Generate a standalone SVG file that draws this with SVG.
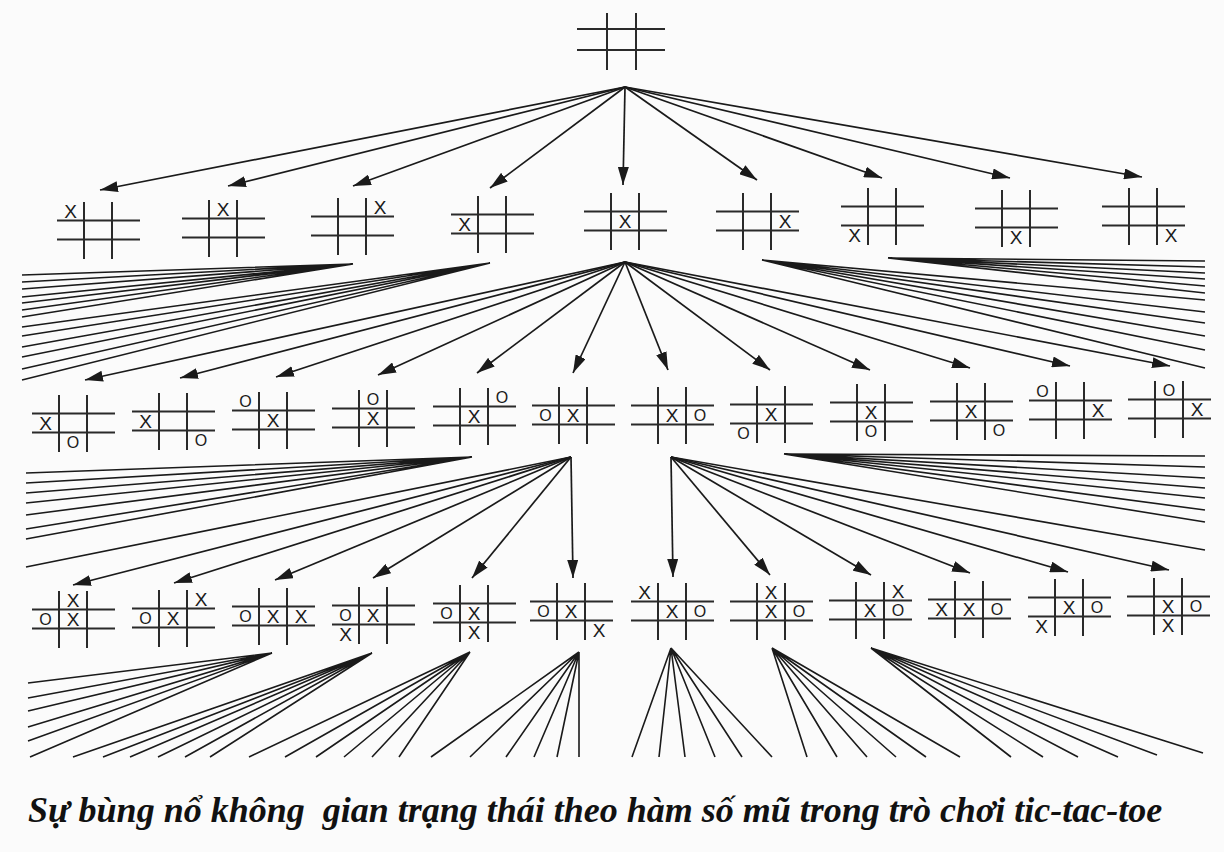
<svg xmlns="http://www.w3.org/2000/svg" xmlns:xlink="http://www.w3.org/1999/xlink" width="1224" height="852" viewBox="0 0 1224 852">
<style>
.grid{fill:none;stroke:#2a2a2a;stroke-width:2}
.x{font-family:"Liberation Sans",Arial,sans-serif;font-size:19px;fill:#1a1a1a;text-anchor:middle;dominant-baseline:central}
.o{font-family:"Liberation Sans",Arial,sans-serif;font-size:16px;fill:#1a1a1a;text-anchor:middle;dominant-baseline:central}
.arr{fill:none;stroke:#1a1a1a;stroke-width:1.7;marker-end:url(#ah)}
.ln{fill:none;stroke:#1a1a1a;stroke-width:1.6}
.cap{font-family:"Liberation Serif","Times New Roman",serif;font-weight:bold;font-style:italic;font-size:36px;fill:#111}
</style>
<defs>
<marker id="ah" markerUnits="userSpaceOnUse" markerWidth="19" markerHeight="11" refX="18" refY="5.5" orient="auto">
<path d="M0,0 L18,5.5 L0,11 z" fill="#1a1a1a"/>
</marker>
<path id="grid" class="grid" d="M27,0V57M55,0V57M0,18.5H83M0,37.5H83"/>
</defs>
<rect width="1224" height="852" fill="#fbfbfb"/>

<g id="connectors">
<path class="arr" d="M625,87L100,190"/>
<path class="arr" d="M625,87L228,186"/>
<path class="arr" d="M625,87L353,186"/>
<path class="arr" d="M625,87L490,188"/>
<path class="arr" d="M625,87L623,185"/>
<path class="arr" d="M625,87L757,180"/>
<path class="arr" d="M625,87L882,178"/>
<path class="arr" d="M625,87L1010,178"/>
<path class="arr" d="M625,87L1142,177"/>
<path class="arr" d="M625,262L85,380"/>
<path class="arr" d="M625,262L180,378"/>
<path class="arr" d="M625,262L276,377"/>
<path class="arr" d="M625,262L378,375"/>
<path class="arr" d="M625,262L477,373"/>
<path class="arr" d="M625,262L573,373"/>
<path class="arr" d="M625,262L668,370"/>
<path class="arr" d="M625,262L770,370"/>
<path class="arr" d="M625,262L870,370"/>
<path class="arr" d="M625,262L970,368"/>
<path class="arr" d="M625,262L1070,366"/>
<path class="arr" d="M625,262L1170,366"/>
<path class="ln" d="M353,264L22,275M353,264L22,282M353,264L22,289M353,264L22,297M353,264L22,303M353,264L22,310M353,264L22,317"/>
<path class="ln" d="M490,263L22,327M490,263L22,336M490,263L22,347M490,263L22,357M490,263L22,369M490,263L22,380"/>
<path class="ln" d="M762,260L1205,300M762,260L1205,312M762,260L1205,323M762,260L1205,336M762,260L1205,350M762,260L1205,368"/>
<path class="ln" d="M888,258L1205,261M888,258L1205,267M888,258L1205,273M888,258L1205,279M888,258L1205,286M888,258L1205,293"/>
<path class="ln" d="M472,457L26,473M472,457L26,483M472,457L26,493M472,457L26,503M472,457L26,515M472,457L26,529M472,457L26,539"/>
<path class="ln" d="M571,457L26,567"/>
<path class="arr" d="M571,457L73,585"/>
<path class="arr" d="M571,457L174,583"/>
<path class="arr" d="M571,457L275,580"/>
<path class="arr" d="M571,457L373,578"/>
<path class="arr" d="M571,457L472,578"/>
<path class="arr" d="M571,457L573,578"/>
<path class="ln" d="M671,457L1205,550"/>
<path class="arr" d="M671,457L673,577"/>
<path class="arr" d="M671,457L770,575"/>
<path class="arr" d="M671,457L871,575"/>
<path class="arr" d="M671,457L970,573"/>
<path class="arr" d="M671,457L1068,572"/>
<path class="arr" d="M671,457L1169,570"/>
<path class="ln" d="M784,454L1205,456M784,454L1205,467M784,454L1205,478M784,454L1205,488M784,454L1205,498M784,454L1205,510M784,454L1205,522"/>
<path class="ln" d="M272,653L28,683M272,653L28,698M272,653L28,711M272,653L28,727M272,653L28,741M272,653L30,757"/>
<path class="ln" d="M372,653L73,757M372,653L103,757M372,653L130,757M372,653L158,757M372,653L185,757M372,653L210,757"/>
<path class="ln" d="M470,652L249,757M470,652L285,757M470,652L316,757M470,652L344,757M470,652L372,757M470,652L399,757"/>
<path class="ln" d="M579,652L431,757M579,652L470,757M579,652L506,757M579,652L534,757M579,652L557,757M579,652L579,757"/>
<path class="ln" d="M671,648L632,757M671,648L659,757M671,648L685,757M671,648L715,757M671,648L742,757M671,648L772,757"/>
<path class="ln" d="M772,648L807,757M772,648L837,757M772,648L867,757M772,648L896,757M772,648L926,757M772,648L960,757"/>
<path class="ln" d="M871,648L1011,757M871,648L1043,757M871,648L1078,757M871,648L1118,757M871,648L1157,755M871,648L1203,753"/>
</g>

<g id="root"><path class="grid" d="M607,13V70M636,13V70M577,29H665M577,50H665"/></g>

<g id="n1-1" transform="translate(57,202)"><use xlink:href="#grid"/><text class="x" x="13.5" y="9">X</text></g>
<g id="n1-2" transform="translate(182,200)"><use xlink:href="#grid"/><text class="x" x="41" y="9">X</text></g>
<g id="n1-3" transform="translate(311,198)"><use xlink:href="#grid"/><text class="x" x="69" y="9">X</text></g>
<g id="n1-4" transform="translate(451,196)"><use xlink:href="#grid"/><text class="x" x="13.5" y="28">X</text></g>
<g id="n1-5" transform="translate(584,193)"><use xlink:href="#grid"/><text class="x" x="41" y="28">X</text></g>
<g id="n1-6" transform="translate(716,193)"><use xlink:href="#grid"/><text class="x" x="69" y="28">X</text></g>
<g id="n1-7" transform="translate(841,188)"><use xlink:href="#grid"/><text class="x" x="13.5" y="47">X</text></g>
<g id="n1-8" transform="translate(975,190)"><use xlink:href="#grid"/><text class="x" x="41" y="47">X</text></g>
<g id="n1-9" transform="translate(1102,188)"><use xlink:href="#grid"/><text class="x" x="69" y="47">X</text></g>

<g id="n2-1" transform="translate(32,395)"><use xlink:href="#grid"/><text class="x" x="13.5" y="28">X</text><text class="o" x="41" y="47">O</text></g>
<g id="n2-2" transform="translate(132,393)"><use xlink:href="#grid"/><text class="x" x="13.5" y="28">X</text><text class="o" x="69" y="47">O</text></g>
<g id="n2-3" transform="translate(232,392)"><use xlink:href="#grid"/><text class="o" x="13.5" y="9">O</text><text class="x" x="41" y="28">X</text></g>
<g id="n2-4" transform="translate(332,390)"><use xlink:href="#grid"/><text class="o" x="41" y="9">O</text><text class="x" x="41" y="28">X</text></g>
<g id="n2-5" transform="translate(433,388)"><use xlink:href="#grid"/><text class="o" x="69" y="9">O</text><text class="x" x="41" y="28">X</text></g>
<g id="n2-6" transform="translate(532,387)"><use xlink:href="#grid"/><text class="o" x="13.5" y="28">O</text><text class="x" x="41" y="28">X</text></g>
<g id="n2-7" transform="translate(631,387)"><use xlink:href="#grid"/><text class="x" x="41" y="28">X</text><text class="o" x="69" y="28">O</text></g>
<g id="n2-8" transform="translate(730,386)"><use xlink:href="#grid"/><text class="x" x="41" y="28">X</text><text class="o" x="13.5" y="47">O</text></g>
<g id="n2-9" transform="translate(830,384)"><use xlink:href="#grid"/><text class="x" x="41" y="28">X</text><text class="o" x="41" y="47">O</text></g>
<g id="n2-10" transform="translate(930,383)"><use xlink:href="#grid"/><text class="x" x="41" y="28">X</text><text class="o" x="69" y="47">O</text></g>
<g id="n2-11" transform="translate(1029,382)"><use xlink:href="#grid"/><text class="o" x="13.5" y="9">O</text><text class="x" x="69" y="28">X</text></g>
<g id="n2-12" transform="translate(1128,381)"><use xlink:href="#grid"/><text class="o" x="41" y="9">O</text><text class="x" x="69" y="28">X</text></g>

<g id="n3-1" transform="translate(32,591)"><use xlink:href="#grid"/><text class="x" x="41" y="9">X</text><text class="o" x="13.5" y="28">O</text><text class="x" x="41" y="28">X</text></g>
<g id="n3-2" transform="translate(132,590)"><use xlink:href="#grid"/><text class="x" x="69" y="9">X</text><text class="o" x="13.5" y="28">O</text><text class="x" x="41" y="28">X</text></g>
<g id="n3-3" transform="translate(232,588)"><use xlink:href="#grid"/><text class="o" x="13.5" y="28">O</text><text class="x" x="41" y="28">X</text><text class="x" x="69" y="28">X</text></g>
<g id="n3-4" transform="translate(332,587)"><use xlink:href="#grid"/><text class="o" x="13.5" y="28">O</text><text class="x" x="41" y="28">X</text><text class="x" x="13.5" y="47">X</text></g>
<g id="n3-5" transform="translate(433,585)"><use xlink:href="#grid"/><text class="o" x="13.5" y="28">O</text><text class="x" x="41" y="28">X</text><text class="x" x="41" y="47">X</text></g>
<g id="n3-6" transform="translate(530,583)"><use xlink:href="#grid"/><text class="o" x="13.5" y="28">O</text><text class="x" x="41" y="28">X</text><text class="x" x="69" y="47">X</text></g>
<g id="n3-7" transform="translate(631,583)"><use xlink:href="#grid"/><text class="x" x="13.5" y="9">X</text><text class="x" x="41" y="28">X</text><text class="o" x="69" y="28">O</text></g>
<g id="n3-8" transform="translate(730,583)"><use xlink:href="#grid"/><text class="x" x="41" y="9">X</text><text class="x" x="41" y="28">X</text><text class="o" x="69" y="28">O</text></g>
<g id="n3-9" transform="translate(829,582)"><use xlink:href="#grid"/><text class="x" x="69" y="9">X</text><text class="x" x="41" y="28">X</text><text class="o" x="69" y="28">O</text></g>
<g id="n3-10" transform="translate(928,581)"><use xlink:href="#grid"/><text class="x" x="13.5" y="28">X</text><text class="x" x="41" y="28">X</text><text class="o" x="69" y="28">O</text></g>
<g id="n3-11" transform="translate(1028,579)"><use xlink:href="#grid"/><text class="x" x="13.5" y="47">X</text><text class="x" x="41" y="28">X</text><text class="o" x="69" y="28">O</text></g>
<g id="n3-12" transform="translate(1127,578)"><use xlink:href="#grid"/><text class="x" x="41" y="28">X</text><text class="o" x="69" y="28">O</text><text class="x" x="41" y="47">X</text></g>

<text id="caption" class="cap" x="28" y="822" xml:space="preserve">Sự bùng nổ không  gian trạng thái theo hàm số mũ trong trò chơi tic-tac-toe</text>
</svg>
